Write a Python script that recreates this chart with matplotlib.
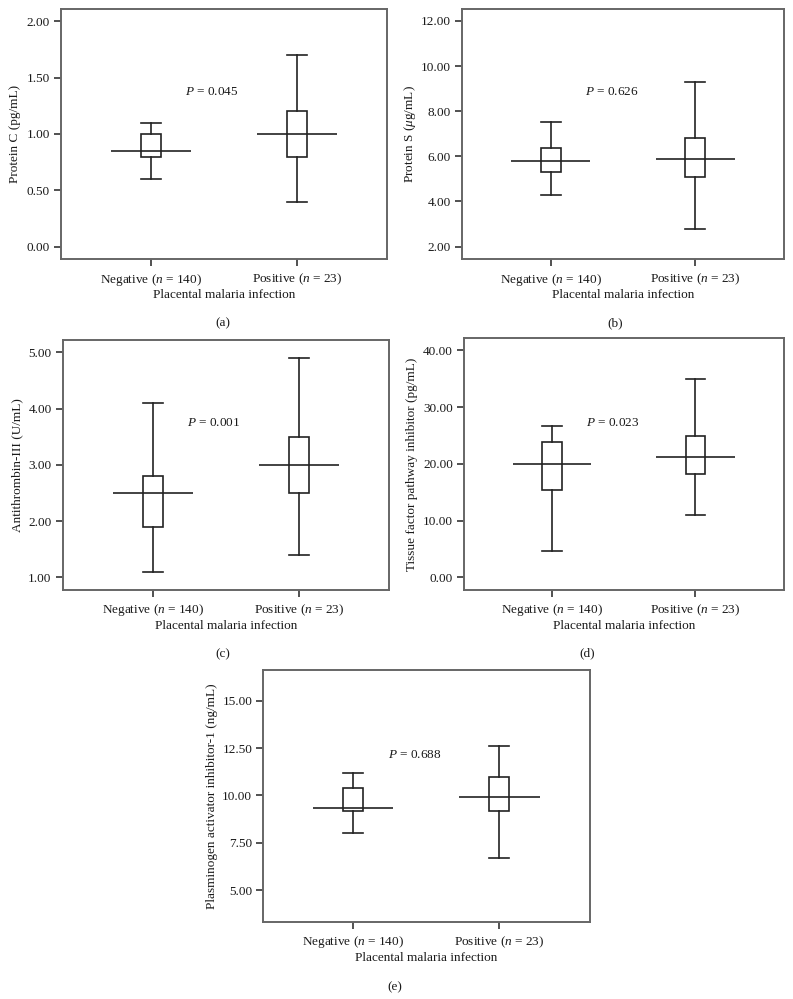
import matplotlib
matplotlib.use("Agg")
import matplotlib.pyplot as plt

plt.rcParams['font.family'] = ['Liberation Serif', 'DejaVu Serif']
plt.rcParams['mathtext.fontset'] = 'custom'
plt.rcParams['mathtext.rm'] = 'Liberation Serif'
plt.rcParams['mathtext.it'] = 'Liberation Serif:italic'

# ---- data ----
categories = ["Negative ($n$ = 140)", "Positive ($n$ = 23)"]
xlabel = "Placental malaria infection"

ylabels = ["Protein C (pg/mL)", "Protein S ($\\mu$g/mL)", "Antithrombin-III (U/mL)",
           "Tissue factor pathway inhibitor (pg/mL)",
           "Plasminogen activator inhibitor-1 (ng/mL)"]
panel_tags = ["(a)", "(b)", "(c)", "(d)", "(e)"]
p_texts = ["0.045", "0.626", "0.001", "0.023", "0.688"]
p_y = [1.375, 8.85, 3.74, 27.25, 12.14]

# whisker low, q1, median, q3, whisker high  (Negative, Positive)
a_neg = [0.60, 0.80, 0.85, 1.00, 1.10]
a_pos = [0.40, 0.80, 1.00, 1.20, 1.70]
b_neg = [4.30, 5.30, 5.80, 6.35, 7.50]
b_pos = [2.80, 5.10, 5.90, 6.80, 9.30]
c_neg = [1.10, 1.90, 2.50, 2.80, 4.10]
c_pos = [1.40, 2.50, 3.00, 3.50, 4.90]
d_neg = [4.6, 15.4, 20.0, 23.9, 26.7]
d_pos = [10.9, 18.2, 21.2, 24.9, 34.9]
e_neg = [8.00, 9.20, 9.35, 10.40, 11.20]
e_pos = [6.70, 9.20, 9.90, 11.00, 12.60]

yticks = [
    [0.0, 0.5, 1.0, 1.5, 2.0],
    [2.0, 4.0, 6.0, 8.0, 10.0, 12.0],
    [1.0, 2.0, 3.0, 4.0, 5.0],
    [0.0, 10.0, 20.0, 30.0, 40.0],
    [5.0, 7.5, 10.0, 12.5, 15.0],
]
ylims = [(-0.11, 2.11), (1.45, 12.53), (0.774, 5.22), (-2.23, 42.23), (3.31, 16.66)]

panels = [(a_neg, a_pos), (b_neg, b_pos), (c_neg, c_pos), (d_neg, d_pos), (e_neg, e_pos)]

# ---- layout (pixels) ----
W, H = 793, 999
boxes_px = [(61, 387, 9, 259), (462, 784, 9, 259), (62.7, 389, 340, 590),
            (464, 783.5, 337.7, 590), (263.3, 589.5, 669.5, 922)]
ylab_cx = [15, 410, 17, 411.7, 211.7]  # centre x of y-label (px)
tag_pos = [(223, 323), (615, 323), (223, 654), (587, 653), (395, 987)]

fig = plt.figure(figsize=(W / 100, H / 100), dpi=100)

line_col = '#222222'
spine_col = '#666666'
fs = 9.5
lw = 1.2

for i, ((neg, pos), (l, r, t, b)) in enumerate(zip(panels, boxes_px)):
    ax = fig.add_axes([l / W, 1 - b / H, (r - l) / W, (b - t) / H])
    stats = []
    for vals, lab in zip((neg, pos), categories):
        stats.append(dict(whislo=vals[0], q1=vals[1], med=vals[2], q3=vals[3],
                          whishi=vals[4], fliers=[], label=lab))
    ax.bxp(stats, positions=[1, 2], widths=0.137, capwidths=0.137,
           showfliers=False, patch_artist=True,
           boxprops=dict(facecolor='white', edgecolor=line_col, linewidth=lw),
           whiskerprops=dict(color=line_col, linewidth=lw),
           capprops=dict(color=line_col, linewidth=lw),
           medianprops=dict(linewidth=0))
    meds = [neg[2], pos[2]]
    ax.hlines(meds, [1 - 0.274, 2 - 0.274], [1 + 0.274, 2 + 0.274],
              colors=line_col, linewidth=lw, zorder=5)
    ax.set_xlim(0.384, 2.616)
    ax.set_ylim(*ylims[i])
    ax.set_yticks(yticks[i])
    ax.set_yticklabels([f"{v:.2f}" for v in yticks[i]])
    ax.set_xticks([1, 2])
    ax.set_xticklabels(categories)
    ax.tick_params(axis='both', direction='out', length=5, width=1.1,
                   color=line_col, labelsize=fs, labelcolor='#1a1a1a', pad=3)
    ax.tick_params(axis='x', pad=4)
    for sp in ax.spines.values():
        sp.set_color(spine_col)
        sp.set_linewidth(1.4)
    ax.set_ylabel(ylabels[i], fontsize=fs, color='#1a1a1a', va='center')
    ax.yaxis.set_label_coords((ylab_cx[i] - l) / (r - l), 0.5)
    ax.text(0.5, -0.144, xlabel, transform=ax.transAxes, ha='center', va='center',
            fontsize=fs, color='#1a1a1a')
    ax.text(1.235, p_y[i], "$P$ = " + p_texts[i], ha='left', va='center',
            fontsize=fs, color='#1a1a1a')
    tx, ty = tag_pos[i]
    fig.text(tx / W, 1 - ty / H, panel_tags[i], ha='center', va='center',
             fontsize=fs, color='#1a1a1a')

fig.savefig("out.png", dpi=100, facecolor='white')
